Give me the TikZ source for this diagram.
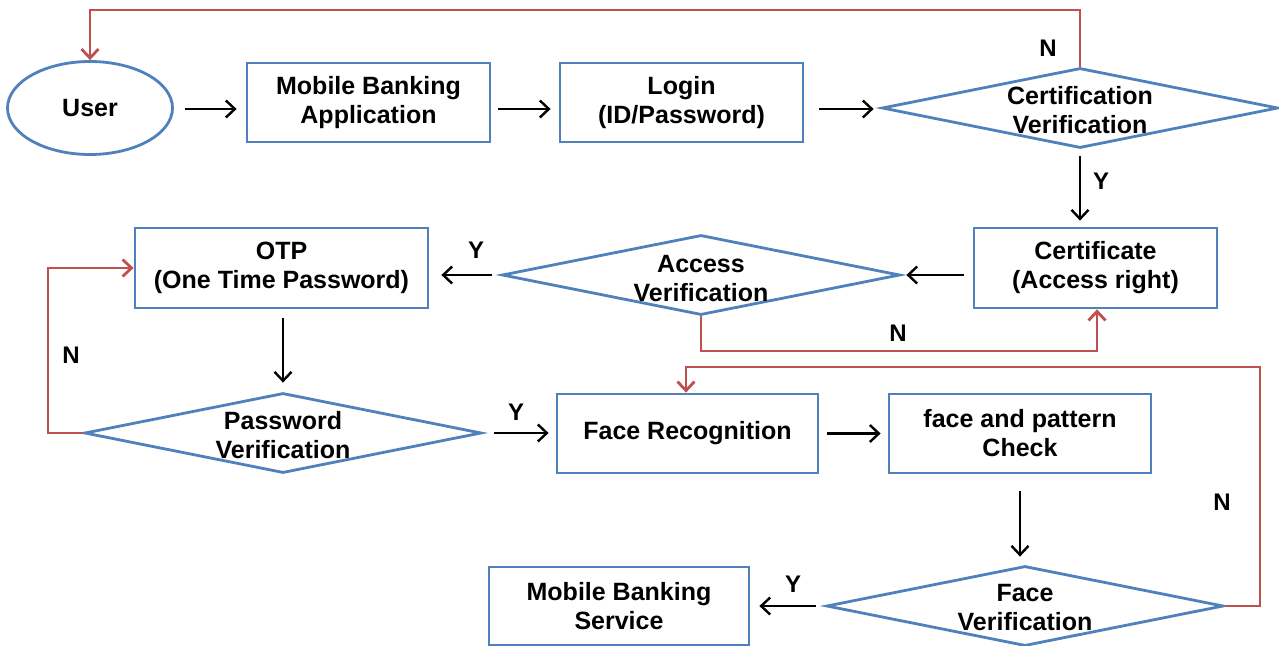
\documentclass[tikz,border=0pt]{standalone}
\usepackage{fontspec}
\setmainfont{Liberation Sans}
\usetikzlibrary{shapes.geometric,arrows.meta}
\definecolor{bblue}{HTML}{4F81BD}
\definecolor{rred}{HTML}{C0504D}
\begin{document}
\begin{tikzpicture}[x=1pt,y=-1pt,
  txt/.style={font=\fontsize{25}{29}\selectfont\bfseries, align=center, inner sep=0pt},
  box/.style={draw=bblue, line width=2.8pt, rectangle, inner sep=0pt, fill=white},
  dia/.style={draw=bblue, line width=2.8pt, diamond, inner sep=0pt, fill=white},
  arr/.style={draw=black, line width=2.4pt, -{Straight Barb[length=9pt,width=17pt,line width=2.4pt]}},
  narr/.style={draw=rred, line width=2.8pt, -{Straight Barb[length=9pt,width=17pt,line width=2.8pt]}},
  lab/.style={font=\fontsize{24}{26}\selectfont\bfseries, inner sep=0pt}
]
\useasboundingbox (0,0) rectangle (1279,645);
\fill[white] (0,0) rectangle (1279,645);

% nodes
\node[draw=bblue, line width=2.8pt, ellipse, minimum width=165pt, minimum height=93pt, inner sep=0pt] (user) at (90,108) {};
\node[txt] at (user) {User};

\node[box, minimum width=243pt, minimum height=79pt] (mba) at (368.5,102.5) {};
\node[txt] at (mba) {Mobile Banking\\Application};

\node[box, minimum width=243pt, minimum height=79pt] (login) at (681.5,102.5) {};
\node[txt] at (login) {Login\\(ID/Password)};

\node[dia, minimum width=396pt, minimum height=80pt] (cv) at (1080,108) {};
\node[txt] at ([yshift=-2pt]cv.center) {Certification\\Verification};

\node[box, minimum width=243pt, minimum height=80pt] (cert) at (1095.5,268) {};
\node[txt] at (cert) {Certificate\\(Access right)};

\node[dia, minimum width=398pt, minimum height=80pt] (av) at (701,275) {};
\node[txt] at ([yshift=-4pt]av.center) {Access\\Verification};

\node[box, minimum width=293pt, minimum height=80pt] (otp) at (281.5,268) {};
\node[txt] at (otp) {OTP\\(One Time Password)};

\node[dia, minimum width=397pt, minimum height=80pt] (pv) at (283,433) {};
\node[txt] at ([yshift=-2pt]pv.center) {Password\\Verification};

\node[box, minimum width=261pt, minimum height=79pt] (fr) at (687.5,433.5) {};
\node[txt] at (fr) {Face Recognition};

\node[box, minimum width=262pt, minimum height=79pt] (fpc) at (1020,433.5) {};
\node[txt] at (fpc) {face and pattern\\Check};

\node[dia, minimum width=397pt, minimum height=80pt] (fv) at (1025,606) {};
\node[txt] at ([yshift=-2pt]fv.center) {Face\\Verification};

\node[box, minimum width=260pt, minimum height=78pt] (mbs) at (619,606) {};
\node[txt] at (mbs) {Mobile Banking\\Service};

% black arrows
\coordinate (r1) at (0,109);
\draw[arr, shorten <=11pt, shorten >=9pt] (user.east |- r1) -- (mba.west |- r1);
\draw[arr, shorten <=7pt, shorten >=8pt] (mba.east |- r1) -- (login.west |- r1);
\draw[arr, shorten <=15pt, shorten >=7pt] (login.east |- r1) -- (cv.west |- r1);
\draw[arr, shorten <=7pt, shorten >=6pt] (cv.south) -- (cv.south |- cert.north);
\draw[arr, shorten <=9pt, shorten >=5pt] (cert.west |- av.east) -- (av.east);
\draw[arr, shorten <=9pt, shorten >=12pt] (av.west) -- (otp.east |- av.west);
\draw[arr, shorten <=9pt, shorten >=9pt] (otp.south -| pv.north) -- (pv.north);
\draw[arr, shorten <=11pt, shorten >=7pt] (pv.east) -- (fr.west |- pv.east);
\draw[arr, shorten <=8pt, shorten >=7pt] (fr.east) -- (fpc.west);
\draw[arr, shorten <=17pt, shorten >=8pt] (fpc.south) -- (fpc.south |- fv.north);
\draw[arr, shorten <=9pt, shorten >=9pt] (fv.west) -- (mbs.east |- fv.west);

% red N loops
\coordinate (c1) at (1082,10);
\coordinate (c2) at (90,10);
\draw[narr] (cv.north) -- (cv.north |- c1) -- (c2) -- (user.north);

\coordinate (c3) at (48,433);
\draw[narr] (pv.west) -- (c3) -- (c3 |- otp.west) -- (otp.west);

\coordinate (c4) at (1097,351);
\draw[narr] (av.south) -- (av.south |- c4) -- (c4) -- (c4 |- cert.south);

\coordinate (c5) at (1260,367);
\coordinate (c6) at (686,367);
\draw[narr] (fv.east) -- (fv.east -| c5) -- (c5) -- (c6) -- (c6 |- fr.north);

% labels
\node[lab] (n1) at (1048,48) {N};
\node[lab] (y1) at (1101,181) {Y};
\node[lab] (y2) at (476,250) {Y};
\node[lab] (n2) at (898,333) {N};
\node[lab] (n3) at (71,355) {N};
\node[lab] (y3) at (516,412) {Y};
\node[lab] (n4) at (1222,502) {N};
\node[lab] (y4) at (793,584) {Y};
\end{tikzpicture}
\end{document}
